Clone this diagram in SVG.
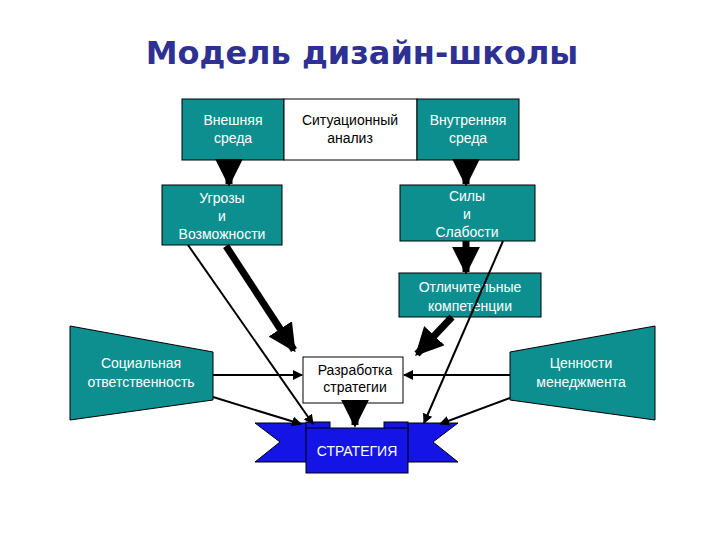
<svg xmlns="http://www.w3.org/2000/svg" width="720" height="540" viewBox="0 0 720 540">
<defs>
<marker id="ah" viewBox="0 0 10 10" refX="9" refY="5" markerWidth="4" markerHeight="4" orient="auto"><path d="M0,0L10,5L0,10z" fill="#000"/></marker>
<marker id="at" viewBox="0 0 10 10" refX="9" refY="5" markerWidth="7" markerHeight="7" orient="auto" markerUnits="userSpaceOnUse"><path d="M0,0L10,5L0,10z" fill="#000"/></marker>
<marker id="an" viewBox="0 0 10 10" refX="9" refY="5" markerWidth="10" markerHeight="10" markerUnits="userSpaceOnUse" orient="auto"><path d="M0,0L10,5L0,10z" fill="#000"/></marker>
</defs>
<style>
.t{fill:#0d8f8f;stroke:#000;stroke-width:1}
.w{fill:#fff;stroke:#000;stroke-width:1}
text{font-family:"Liberation Sans",Arial,sans-serif;font-size:14px;text-anchor:middle}
.l{fill:#fff}
.d{fill:#000}
.thick{stroke:#000;stroke-width:7;fill:none}
.thin{stroke:#000;stroke-width:2;fill:none}
</style>
<rect width="720" height="540" fill="#fff"/>
<text x="362" y="64" style="font-family:'DejaVu Sans',sans-serif;font-size:32px;font-weight:bold;fill:#2e3192">Модель дизайн-школы</text>
<g id="ext"><rect class="t" x="182" y="99" width="102" height="61"/><text class="l" x="233" y="125">Внешняя</text><text class="l" x="233" y="143">среда</text></g>
<g id="sit"><rect class="w" x="284" y="99" width="133" height="61"/><text class="d" x="350" y="125">Ситуационный</text><text class="d" x="350" y="143">анализ</text></g>
<g id="int"><rect class="t" x="417" y="99" width="102" height="61"/><text class="l" x="468" y="125">Внутренняя</text><text class="l" x="468" y="143">среда</text></g>
<g id="threats"><rect class="t" x="162" y="185" width="120" height="60"/><text class="l" x="222" y="203">Угрозы</text><text class="l" x="222" y="221">и</text><text class="l" x="222" y="239">Возможности</text></g>
<g id="strengths"><rect class="t" x="400" y="185" width="135" height="56"/><text class="l" x="467" y="201">Силы</text><text class="l" x="467" y="219">и</text><text class="l" x="467" y="237">Слабости</text></g>
<g id="comp"><rect class="t" x="399" y="273" width="142" height="44"/><text class="l" x="470" y="292">Отличительные</text><text class="l" x="470" y="311">компетенции</text></g>
<g id="social"><polygon class="t" points="70,326 213,352 213,400 70,420" stroke="none"/><text class="l" x="141" y="368">Социальная</text><text class="l" x="141" y="387">ответственность</text></g>
<g id="values"><polygon class="t" points="510,352 655,326 655,420 510,400" stroke="none"/><text class="l" x="581" y="368">Ценности</text><text class="l" x="581" y="387">менеджмента</text></g>
<g id="dev"><rect class="w" x="303" y="357" width="100" height="46"/><text class="d" x="355" y="375">Разработка</text><text class="d" x="355" y="392">стратегии</text></g>
<g id="strategy">
<polygon points="255,423 320,423 320,462 255,462 280,442" fill="#1414e6" stroke="#000"/>
<polygon points="458,423 395,423 395,462 458,462 433,442" fill="#1414e6" stroke="#000"/>
<rect x="306" y="422" width="24" height="10" fill="#1414e6" stroke="#000"/>
<rect x="384" y="422" width="24" height="10" fill="#1414e6" stroke="#000"/>
<rect x="306" y="428" width="102" height="45" fill="#1414e6" stroke="#000"/>
<text class="l" x="357" y="456">СТРАТЕГИЯ</text>
</g>
<g id="connectors">
<line class="thick" x1="229" y1="160" x2="229" y2="184" marker-end="url(#ah)"/>
<line class="thick" x1="466" y1="160" x2="466" y2="184" marker-end="url(#ah)"/>
<line class="thick" x1="466" y1="241" x2="466" y2="272" marker-end="url(#ah)"/>
<line class="thick" x1="226" y1="246" x2="294" y2="350" marker-end="url(#ah)"/>
<line class="thick" x1="452" y1="317" x2="417" y2="354" marker-end="url(#ah)"/>
<line class="thick" x1="355" y1="403" x2="355" y2="425" marker-end="url(#ah)"/>
<line class="thin" x1="188" y1="245" x2="313" y2="424" marker-end="url(#an)"/>
<line class="thin" x1="503" y1="241" x2="424" y2="423" marker-end="url(#an)"/>
<line class="thin" x1="213" y1="375" x2="302" y2="375" marker-end="url(#an)"/>
<line class="thin" x1="510" y1="375" x2="404" y2="375" marker-end="url(#an)"/>
<line class="thin" x1="213" y1="397" x2="301" y2="424" marker-end="url(#an)"/>
<line class="thin" x1="510" y1="398" x2="440" y2="424" marker-end="url(#an)"/>
</g>
</svg>
